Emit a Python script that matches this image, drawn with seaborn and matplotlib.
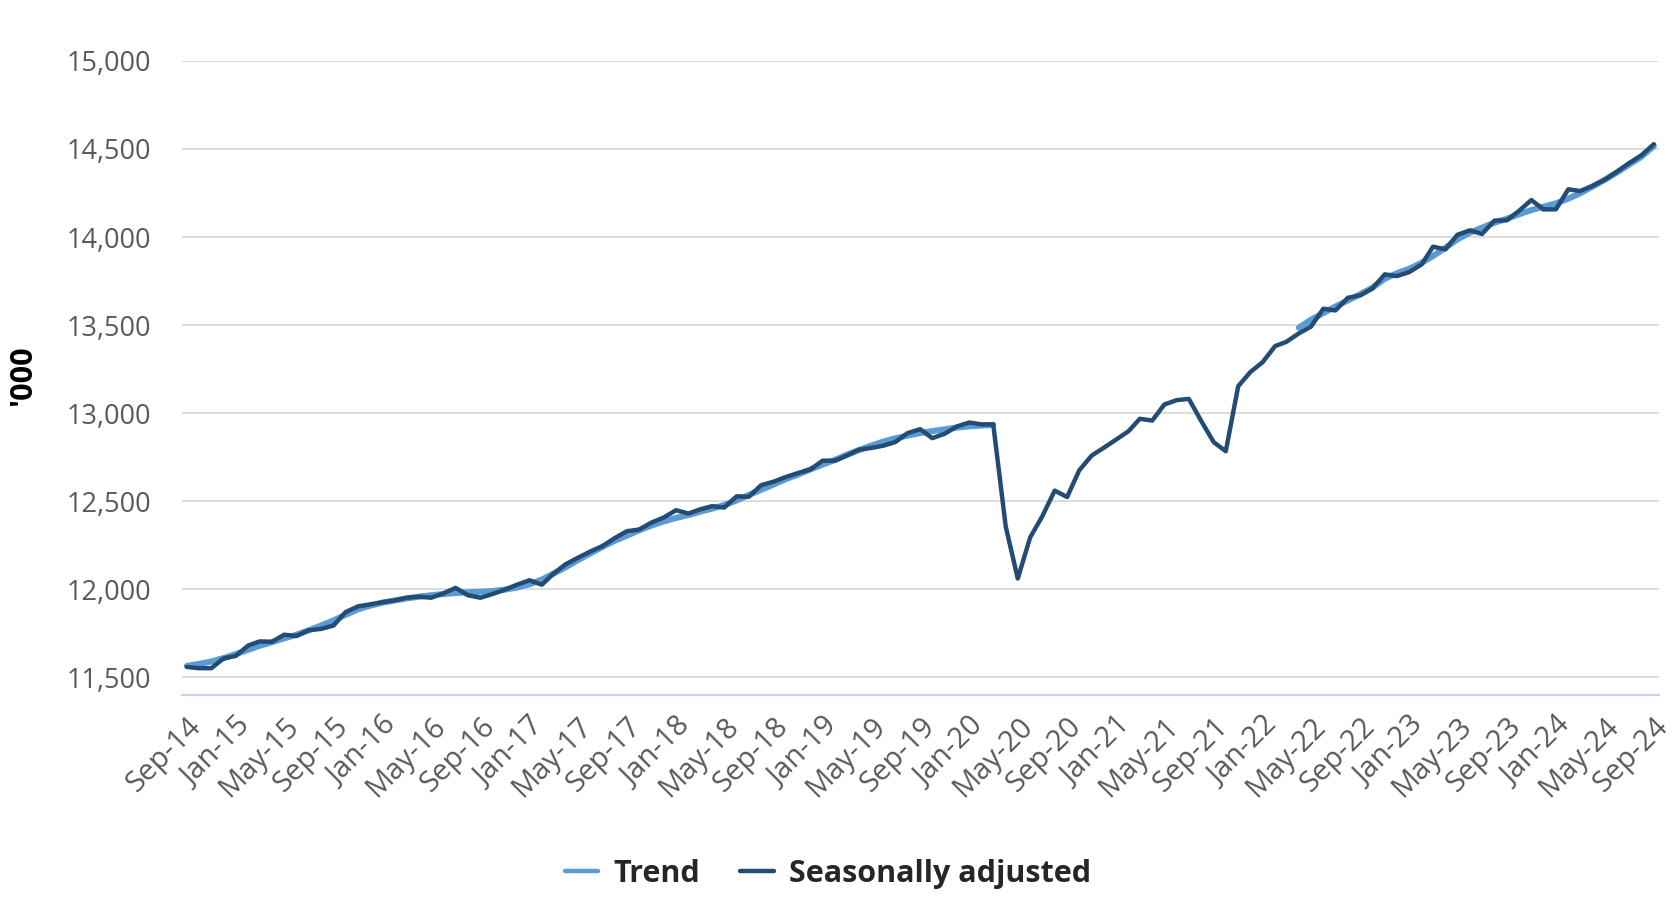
import numpy as np
import pandas as pd
import matplotlib
matplotlib.use("Agg")
import matplotlib.pyplot as plt
import seaborn as sns

# monthly, Sep-14 .. Sep-24 ('000 persons)
START = "2014-09-01"

seas_adj = [
    11559, 11552, 11552, 11607, 11622, 11681, 11704, 11702, 11742, 11735,
    11767, 11775, 11794, 11870, 11903, 11914, 11927, 11937, 11952, 11958,
    11952, 11977, 12008, 11966, 11952, 11973, 11998, 12026, 12051, 12026,
    12087, 12142, 12178, 12214, 12244, 12290, 12330, 12339, 12379, 12407,
    12449, 12430, 12453, 12472, 12464, 12528, 12525, 12591, 12611, 12637,
    12660, 12679, 12730, 12730, 12758, 12792, 12802, 12815, 12836, 12887,
    12909, 12858, 12883, 12924, 12947, 12936, 12936, 12357, 12061, 12295,
    12414, 12560, 12524, 12675, 12759, 12803, 12850, 12898, 12968, 12958,
    13049, 13074, 13081, 12955, 12835, 12784, 13153, 13233, 13290, 13381,
    13405, 13453, 13491, 13593, 13583, 13655, 13669, 13708, 13788, 13778,
    13801, 13845, 13945, 13930, 14013, 14038, 14017, 14093, 14095, 14148,
    14210, 14157, 14157, 14271, 14261, 14290, 14324, 14371, 14419, 14464,
    14527,
]

# trend suspended Apr-20 .. Mar-22
trend_pre = [
    11565, 11576, 11590, 11609, 11632, 11657, 11679, 11700, 11721, 11742,
    11767, 11794, 11823, 11855, 11886, 11907, 11924, 11937, 11948, 11958,
    11966, 11973, 11979, 11983, 11986, 11990, 11998, 12010, 12028, 12055,
    12088, 12125, 12165, 12203, 12240, 12275, 12305, 12335, 12362, 12385,
    12405, 12422, 12440, 12458, 12478, 12505, 12535, 12565, 12595, 12625,
    12652, 12680, 12708, 12735, 12762, 12790, 12815, 12838, 12857, 12873,
    12887, 12898, 12908, 12918, 12925, 12930, 12933,
]
trend_post = [
    13485, 13530, 13568, 13605, 13640, 13675, 13712, 13763, 13794, 13820,
    13854, 13892, 13939, 13987, 14025, 14053, 14081, 14104, 14129, 14153,
    14172, 14191, 14218, 14248, 14286, 14324, 14366, 14411, 14456, 14517,
]

YTICKS = [11500, 12000, 12500, 13000, 13500, 14000, 14500, 15000]

TREND_COL = "#5B9BD5"
SA_COL = "#234C74"

dates = pd.date_range(START, periods=len(seas_adj), freq="MS")

trend_df = pd.DataFrame({
    "date": np.concatenate([dates[:len(trend_pre)], dates[-len(trend_post):]]),
    "value": trend_pre + trend_post,
    "seg": [0] * len(trend_pre) + [1] * len(trend_post),
})
sa_df = pd.DataFrame({"date": dates, "value": seas_adj})

sns.set_theme(style="white")
plt.rcParams["font.family"] = ["Open Sans", "DejaVu Sans"]

fig = plt.figure(figsize=(16.76, 8.98), dpi=100)
ax = fig.add_axes([0.1084, 0.2261, 0.8815, 0.7061])

sns.lineplot(data=trend_df, x="date", y="value", units="seg", estimator=None,
             color=TREND_COL, linewidth=4.4, ax=ax)
sns.lineplot(data=sa_df, x="date", y="value", color=SA_COL, linewidth=3.2,
             ax=ax)

pad = pd.Timedelta(days=13)
ax.set_xlim(dates[0] - pad, dates[-1] + pad)
ax.set_ylim(11400, 15000)

ax.set_yticks(YTICKS)
ax.set_yticklabels([f"{v:,}" for v in YTICKS])
ax.set_xticks(dates[::4])
ax.set_xticklabels([d.strftime("%b-%y") for d in dates[::4]], rotation=45,
                   ha="right", rotation_mode="anchor")
ax.tick_params(axis="y", length=0, pad=22, labelsize=19.5, labelcolor="#595959")
ax.tick_params(axis="x", length=0, pad=12, labelsize=21, labelcolor="#595959")

ax.grid(axis="y", color="#d9d9d9", linewidth=1.3)
ax.grid(axis="x", visible=False)
for side in ["top", "right", "left"]:
    ax.spines[side].set_visible(False)
ax.spines["bottom"].set_color("#c8d2e8")
ax.spines["bottom"].set_linewidth(1.6)

ax.set_xlabel("")
ax.set_ylabel("'000", fontsize=22, fontweight="bold", color="black")
ax.yaxis.set_label_coords(-0.097, 0.503)

handles = [
    plt.Line2D([], [], color=TREND_COL, linewidth=3.2),
    plt.Line2D([], [], color=SA_COL, linewidth=3.2),
]
if ax.get_legend() is not None:
    ax.get_legend().remove()
fig.legend(handles, ["Trend", "Seasonally adjusted"], loc="center",
           bbox_to_anchor=(0.494, 0.027), ncol=2, frameon=False,
           handlelength=1.1, handletextpad=0.5, columnspacing=1.3,
           prop={"family": ["Open Sans", "DejaVu Sans"], "weight": "bold",
                 "size": 22})

fig.savefig("out.png", dpi=100)
